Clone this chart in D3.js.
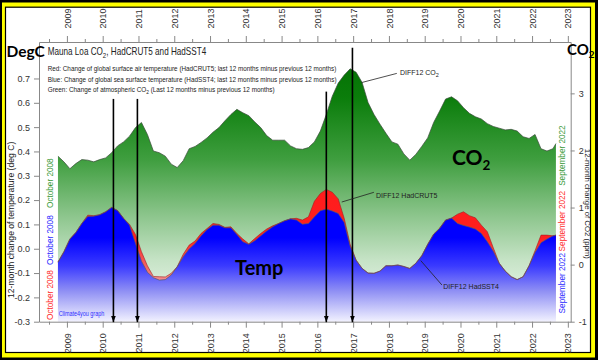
<!DOCTYPE html>
<html><head><meta charset="utf-8">
<script src="https://cdn.jsdelivr.net/npm/d3@7"></script>
<style>
body{margin:0;background:#000}
svg{display:block}
text{font-family:"Liberation Sans",Arial,sans-serif}
.bold{font-family:Lato,"Open Sans",sans-serif;font-weight:700}
</style>
</head><body><svg id="c" width="598" height="360"></svg>
<script>
// ---------- DATA (bimonthly from Oct 2008, last point Sep 2022) ----------
const firstMonth = 2008 + 9/12;   // October 2008
const stepMonths = 2;
const lastMonth = 2022 + 8/12;    // September 2022

const co2 = [1.90,1.80,1.68,1.77,1.84,1.83,1.80,1.84,1.87,1.96,
  2.08,2.15,2.25,2.40,2.49,2.28,1.99,1.96,1.90,1.76,
  1.70,1.82,2.03,2.07,2.14,2.22,2.32,2.40,2.52,2.63,
  2.72,2.66,2.61,2.50,2.40,2.26,2.18,2.18,2.18,2.08,
  2.03,2.02,2.05,2.15,2.34,2.63,2.95,3.18,3.32,3.43,
  3.37,3.19,2.84,2.63,2.46,2.30,2.15,2.11,1.94,1.83,
  1.93,2.07,2.22,2.49,2.69,2.90,2.94,2.87,2.75,2.65,
  2.59,2.55,2.47,2.42,2.39,2.36,2.37,2.34,2.24,2.21,
  2.28,2.03,1.99,2.03,2.12];

const hadsst4 = [-0.055,-0.012,0.040,0.067,0.104,0.133,0.134,0.140,0.152,0.170,
  0.157,0.125,0.097,0.022,-0.051,-0.097,-0.119,-0.129,-0.127,-0.108,
  -0.074,-0.033,-0.001,0.022,0.053,0.079,0.097,0.097,0.086,0.086,
  0.059,0.029,0.018,0.033,0.053,0.073,0.090,0.104,0.115,0.123,
  0.118,0.101,0.104,0.131,0.156,0.163,0.155,0.145,0.108,0.010,
  -0.047,-0.081,-0.100,-0.101,-0.092,-0.070,-0.070,-0.067,-0.073,-0.081,
  -0.060,-0.029,0.018,0.060,0.084,0.118,0.126,0.104,0.096,0.089,
  0.081,0.063,0.029,-0.010,-0.060,-0.092,-0.115,-0.127,-0.115,-0.070,
  -0.015,0.025,0.040,0.053,0.056];

const hadcrut5 = [-0.055,-0.012,0.040,0.067,0.104,0.138,0.136,0.140,0.152,0.170,
  0.157,0.125,0.100,0.059,-0.012,-0.070,-0.114,-0.115,-0.116,-0.101,
  -0.074,-0.023,0.015,0.032,0.063,0.083,0.104,0.100,0.088,0.090,
  0.063,0.040,0.020,0.042,0.063,0.081,0.094,0.104,0.115,0.123,
  0.125,0.118,0.131,0.195,0.227,0.244,0.232,0.205,0.125,0.018,
  -0.047,-0.081,-0.100,-0.101,-0.092,-0.070,-0.070,-0.067,-0.073,-0.081,
  -0.060,-0.029,0.018,0.060,0.084,0.118,0.126,0.142,0.152,0.136,
  0.127,0.097,0.070,0.004,-0.060,-0.092,-0.115,-0.127,-0.115,-0.070,
  -0.008,0.056,0.056,0.053,0.056];

const yearTicks = [2009,2010,2011,2012,2013,2014,2015,2016,2017,2018,2019,2020,2021,2022,2023];
const tempTicks = [-0.3,-0.2,-0.1,0.0,0.1,0.2,0.3,0.4,0.5,0.6,0.7];
const co2Ticks = [-1,0,1,2,3];

// arrows: date and top (deg C)
const arrowDates = [2010.30, 2010.97, 2016.25, 2016.98];
const arrowTops  = [0.616, 0.616, 0.646, 0.826];

// ---------- SCALES ----------
const L = 39, R = 570.7, T = 42, B = 321.7;
const x  = d3.scaleLinear().domain([2008.22, 2023.08]).range([L, R]);
const yT = d3.scaleLinear().domain([-0.3, 0.85]).range([B, T]);
const yC = d3.scaleLinear().domain([-1, 3.9]).range([B, T]);

const dates = co2.map((_, i) => i < co2.length - 1 ? firstMonth + i * stepMonths / 12 : lastMonth);
const data = dates.map((t, i) => ({t, c: co2[i], s: hadsst4[i], r: hadcrut5[i]}));

const svg = d3.select('#c');

// ---------- FRAME ----------
svg.append('rect').attr('width', 598).attr('height', 360).attr('fill', '#000');
svg.append('rect').attr('x', 2).attr('y', 2.5).attr('width', 593).attr('height', 355).attr('fill', '#ffff00');
svg.append('rect').attr('x', 5.5).attr('y', 7.2).attr('width', 585).attr('height', 345.3)
  .attr('fill', '#fff').attr('stroke', '#000').attr('stroke-width', 1.2);

// ---------- GRADIENTS ----------
const defs = svg.append('defs');
function grad(id, stops) {
  const g = defs.append('linearGradient').attr('id', id).attr('gradientUnits', 'userSpaceOnUse')
    .attr('x1', 0).attr('x2', 0).attr('y1', T).attr('y2', B);
  stops.forEach(s => g.append('stop').attr('offset', s[0]).attr('stop-color', s[1]));
}
grad('gG', [[0, '#006a00'], [0.2, '#0b7d0b'], [0.42, '#3f9e3f'], [0.62, '#8cc58c'], [0.78, '#c6e3c6'], [0.92, '#e8f4e8'], [1, '#f6fbf6']]);
grad('gB', [[0, '#0000ff'], [0.7, '#0000ff'], [0.8, '#3a3aff'], [0.89, '#8f8ff4'], [1, '#f2f2ff']]);
grad('gR', [[0, '#ff1010'], [0.7, '#ff2020'], [0.8, '#f26262'], [0.89, '#f5b0b0'], [1, '#fff0f0']]);

defs.append('marker').attr('id', 'ah').attr('viewBox', '0 -3 8 6').attr('refX', 8).attr('refY', 0)
  .attr('markerUnits', 'userSpaceOnUse').attr('markerWidth', 6.5).attr('markerHeight', 5)
  .attr('orient', 'auto').append('path').attr('d', 'M0,-3L8,0L0,3Z').attr('fill', '#000');

// ---------- AREAS ----------
const aG = d3.area().x(d => x(d.t)).y0(B).y1(d => yC(d.c));
const aR = d3.area().x(d => x(d.t)).y0(B).y1(d => yT(d.r));
const aS = d3.area().x(d => x(d.t)).y0(B).y1(d => yT(d.s));
svg.append('path').datum(data).attr('d', aG).attr('fill', 'url(#gG)');
svg.append('path').datum(data).attr('d', aR).attr('fill', 'url(#gR)');
svg.append('path').datum(data).attr('d', aS).attr('fill', 'url(#gB)');
const lG = d3.line().x(d => x(d.t)).y(d => yC(d.c));
const lR = d3.line().x(d => x(d.t)).y(d => yT(d.r));
const lS = d3.line().x(d => x(d.t)).y(d => yT(d.s));
svg.append('path').datum(data).attr('d', lG).attr('fill', 'none').attr('stroke', '#3a4a3a').attr('stroke-width', 0.7);
svg.append('path').datum(data).attr('d', lR).attr('fill', 'none').attr('stroke', '#a02020').attr('stroke-width', 0.6);
svg.append('path').datum(data).attr('d', lS).attr('fill', 'none').attr('stroke', '#555a6a').attr('stroke-width', 0.7);

// ---------- AXES ----------
const halfYears = d3.range(2008.5, 2023.01, 0.5);
function styleAxis(g) {
  g.select('.domain').attr('stroke', '#888');
  g.selectAll('.tick line').attr('stroke', '#888');
  g.selectAll('.tick text').attr('fill', '#333').attr('font-size', 9).attr('font-family', '"Liberation Sans",Arial,sans-serif');
}
const fmtYear = d => Number.isInteger(d) && yearTicks.includes(d) ? String(d) : '';
const gTop = svg.append('g').attr('transform', `translate(0,${T})`)
  .call(d3.axisTop(x).tickValues(halfYears).tickSize(6).tickSizeOuter(0).tickFormat(fmtYear));
gTop.call(styleAxis);
gTop.selectAll('.tick').filter(d => !Number.isInteger(d)).select('line').attr('y2', -3);
gTop.selectAll('.tick text').attr('y', 0).attr('dy', '0.35em').attr('text-anchor', 'start')
  .attr('transform', 'translate(0,-13.5) rotate(-90)');

const gBot = svg.append('g').attr('transform', `translate(0,${B})`)
  .call(d3.axisBottom(x).tickValues(halfYears).tickSize(6).tickSizeOuter(0).tickFormat(fmtYear));
gBot.call(styleAxis);
gBot.selectAll('.tick').filter(d => !Number.isInteger(d)).select('line').attr('y2', 3);
gBot.selectAll('.tick text').attr('y', 0).attr('dy', '0.35em').attr('text-anchor', 'end')
  .attr('transform', 'translate(0,11.5) rotate(-90)');

const gL = svg.append('g').attr('transform', `translate(${L},0)`)
  .call(d3.axisLeft(yT).tickValues(tempTicks).tickSize(5).tickPadding(4).tickSizeOuter(0).tickFormat(d => d.toFixed(1)));
gL.call(styleAxis);
const gRt = svg.append('g').attr('transform', `translate(${R},0)`)
  .call(d3.axisRight(yC).tickValues(co2Ticks).tickSize(4).tickPadding(4).tickSizeOuter(0).tickFormat(d => String(d)));
gRt.call(styleAxis);

// axis titles
svg.append('text').attr('transform', `translate(13.5,${(T + B) / 2 + 38}) rotate(-90)`).attr('text-anchor', 'middle')
  .attr('font-size', 8.6).attr('fill', '#222').text('12-month change of temperature (deg C)');
svg.append('text').attr('transform', `translate(585.3,${(T + B) / 2 + 22}) rotate(90)`).attr('text-anchor', 'middle')
  .attr('font-size', 7.8).attr('fill', '#222').text('12-month change of CO2 (ppm)');

svg.append('text').attr('class', 'bold').attr('x', 6.5).attr('y', 56.5).attr('font-size', 15.5).attr('fill', '#000').text('DegC');
const co2h = svg.append('text').attr('class', 'bold').attr('x', 567).attr('y', 54.5).attr('font-size', 15).attr('fill', '#000');
co2h.append('tspan').text('CO');
co2h.append('tspan').attr('dy', 3).attr('font-size', 10).text('2');

// ---------- TITLE & LEGEND TEXT (horizontally condensed to the original widths) ----------
function condense(sel, px, py, targetW) {
  const w = sel.node().getBBox().width;
  sel.attr('transform', `translate(${px},${py}) scale(${targetW / w},1)`);
}
const title = svg.append('text').attr('font-size', 10).attr('fill', '#222');
title.append('tspan').text('Mauna Loa CO');
title.append('tspan').attr('dy', 2.5).attr('font-size', 7.5).text('2');
title.append('tspan').attr('dy', -2.5).text(', HadCRUT5 and HadSST4');
condense(title, 47.7, 55, 159);

const lr = svg.append('text').attr('font-size', 6.6).attr('fill', '#222')
  .text('Red: Change of global surface air temperature (HadCRUT5; last 12 months minus previous 12 months)');
condense(lr, 47.7, 71.3, 289);
const lb = svg.append('text').attr('font-size', 6.6).attr('fill', '#222')
  .text('Blue: Change of global sea surface temperature (HadSST4; last 12 months minus previous 12 months)');
condense(lb, 47.7, 81.5, 289);
const gl = svg.append('text').attr('font-size', 6.6).attr('fill', '#222');
gl.append('tspan').text('Green: Change of atmospheric CO');
gl.append('tspan').attr('dy', 1.8).attr('font-size', 5).text('2');
gl.append('tspan').attr('dy', -1.8).text(' (Last 12 months minus previous 12 months)');
condense(gl, 47.7, 92, 227);

// ---------- SIDE LABELS ----------
const first = data[0], last = data[data.length - 1];
function sideLabel(t, val, scale, dyOff, color, txt, dx) {
  svg.append('text').attr('transform', `translate(${x(t) + dx},${scale(val) + dyOff}) rotate(-90)`)
    .attr('text-anchor', 'middle').attr('font-size', 8.2).attr('fill', color).text(txt);
}
sideLabel(first.t, first.c, yC, 27, '#3a9a3a', 'October 2008', -4.5);
sideLabel(first.t, first.s, yT, -22, '#2a2aff', 'October 2008', -4.5);
sideLabel(first.t, first.r, yT, 33, '#ff2a2a', 'October 2008', -4.5);
sideLabel(last.t, last.c, yC, 12, '#3a9a3a', 'September 2022', 9);
sideLabel(last.t, last.r, yT, -14, '#ff2a2a', 'September 2022', 9);
sideLabel(last.t, last.s, yT, 48, '#2a2aff', 'September 2022', 9);

const cy = svg.append('text').attr('font-size', 6.3).attr('fill', '#3030ff').text('Climate4you graph');
condense(cy, x(2008.77), 316, 46);

// ---------- ARROWS ----------
arrowDates.forEach((d, i) => {
  svg.append('line').attr('x1', x(d)).attr('x2', x(d)).attr('y1', yT(arrowTops[i])).attr('y2', yT(-0.3) + 0.5)
    .attr('stroke', '#000').attr('stroke-width', 1.6).attr('marker-end', 'url(#ah)');
});

// ---------- ANNOTATIONS ----------
function leader(t0, v0, s0, t1, v1, s1) {
  svg.append('line').attr('x1', x(t0)).attr('y1', s0(v0)).attr('x2', x(t1)).attr('y2', s1(v1))
    .attr('stroke', '#222').attr('stroke-width', 0.8);
}
leader(2017.24, 3.19, yC, 2018.22, 3.35, yC);
const ac = svg.append('text').attr('x', x(2018.31)).attr('y', yC(3.32)).attr('font-size', 7).attr('fill', '#222');
ac.append('tspan').text('DIFF12 CO');
ac.append('tspan').attr('dy', 2).attr('font-size', 5.5).text('2');
leader(2016.68, 0.192, yT, 2017.58, 0.232, yT);
svg.append('text').attr('x', x(2017.64)).attr('y', yT(0.210)).attr('font-size', 7).attr('fill', '#222').text('DIFF12 HadCRUT5');
leader(2018.89, -0.049, yT, 2019.48, -0.149, yT);
svg.append('text').attr('x', x(2019.52)).attr('y', yT(-0.165)).attr('font-size', 7).attr('fill', '#222').text('DIFF12 HadSST4');

// big labels
const bc = svg.append('text').attr('class', 'bold').attr('x', x(2019.76)).attr('y', yC(1.75)).attr('font-size', 21).attr('fill', '#000');
bc.append('tspan').text('CO');
bc.append('tspan').attr('dy', 5).attr('font-size', 13.5).text('2');
svg.append('text').attr('class', 'bold').attr('x', x(2013.70)).attr('y', yT(-0.107)).attr('font-size', 20).attr('fill', '#000').text('Temp');
</script>
</body></html>
